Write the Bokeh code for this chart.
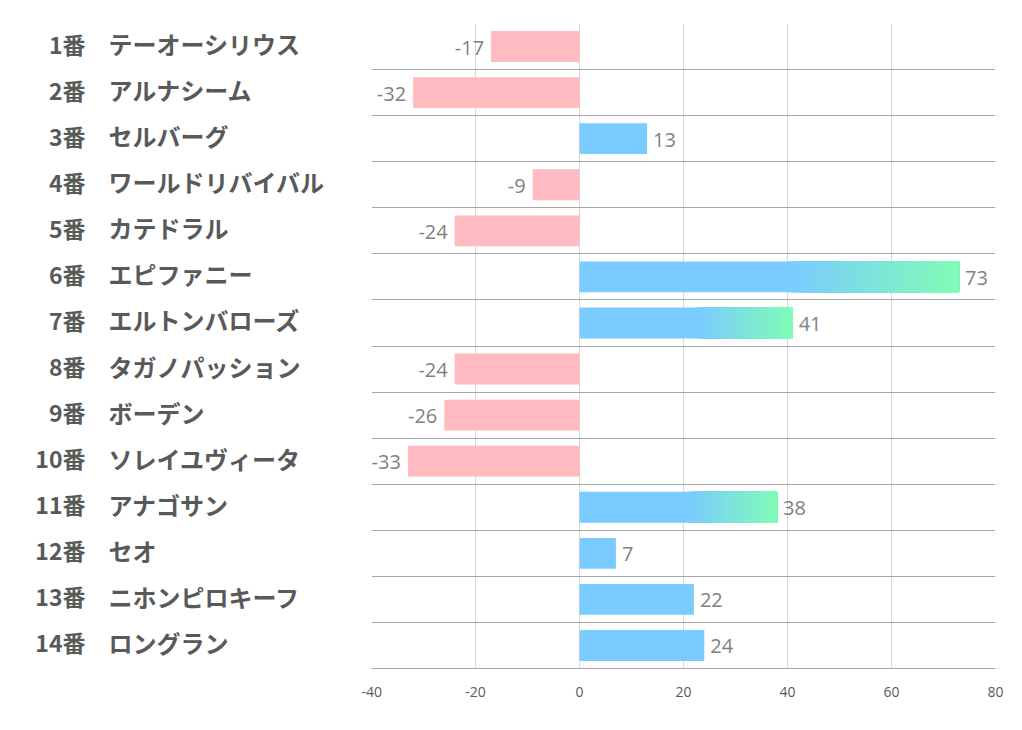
from bokeh.plotting import figure
from bokeh.models import ColumnDataSource, FixedTicker, LabelSet, Range1d
from bokeh.core.properties import value
from bokeh.layouts import row
from bokeh.embed import file_html
from bokeh.resources import INLINE

numbers = ["1番", "2番", "3番", "4番", "5番", "6番", "7番", "8番", "9番", "10番",
           "11番", "12番", "13番", "14番"]
names = ["テーオーシリウス", "アルナシーム", "セルバーグ", "ワールドリバイバル", "カテドラル",
         "エピファニー", "エルトンバローズ", "タガノパッション", "ボーデン", "ソレイユヴィータ",
         "アナゴサン", "セオ", "ニホンピロキーフ", "ロングラン"]
values = [-17, -32, 13, -9, -24, 73, 41, -24, -26, -33, 38, 7, 22, 24]
x_ticks = [-40, -20, 0, 20, 40, 60, 80]

BLUE = (122, 203, 255)
GREEN = (128, 252, 182)
PINK = "#FFBBBF"
GRAD_MIN = 30      # bars at least this long fade to green
GRAD_START = 0.55  # fraction of bar where the fade begins
N_STEPS = 60

n = len(values)
idx = list(range(n))
FH = 645
TOP = 23
BOT = 45

# ---------- left label panel ----------
left = figure(width=361, frame_height=FH, x_range=Range1d(0, 361),
              y_range=Range1d(n - 0.5, -0.5), output_backend="svg",
              toolbar_location=None, min_border_left=0, min_border_right=0,
              min_border_top=TOP, min_border_bottom=BOT)
left.axis.visible = False
left.grid.visible = False
left.outline_line_color = None
lsrc = ColumnDataSource(dict(y=idx, num=numbers, name=names,
                             xn=[85] * n, xm=[108] * n))
left.text(x="xn", y="y", text="num", source=lsrc, text_align="right",
          text_baseline="middle", text_font_size="23px", text_font_style="bold",
          text_color="#595959", text_font=value("Noto Sans CJK JP"), y_offset=-3)
left.text(x="xm", y="y", text="name", source=lsrc, text_align="left",
          text_baseline="middle", text_font_size="24px", text_font_style="bold",
          text_color="#595959", text_font=value("Noto Sans CJK JP"), y_offset=-3)

# ---------- chart ----------
p = figure(frame_width=624, frame_height=FH, x_range=Range1d(-40, 80),
           y_range=Range1d(n - 0.5, -0.5), output_backend="svg",
           toolbar_location=None, min_border_left=10, min_border_right=14,
           min_border_top=TOP, min_border_bottom=BOT)
p.outline_line_color = None
p.yaxis.visible = False
p.xaxis.ticker = FixedTicker(ticks=x_ticks)
p.xaxis.major_label_overrides = {t: str(t) for t in x_ticks}
p.xaxis.major_tick_line_color = None
p.xaxis.minor_tick_line_color = None
p.xaxis.axis_line_color = "#A6A6A6"
p.xaxis.major_label_text_color = "#595959"
p.xaxis.major_label_text_font = "Open Sans"
p.xaxis.major_label_text_font_size = "14px"
p.xaxis.major_label_standoff = 12
p.xgrid.ticker = FixedTicker(ticks=x_ticks)
p.xgrid.grid_line_color = "#D9D9D9"
p.ygrid.ticker = FixedTicker(ticks=[i - 0.5 for i in range(n + 1)])
p.ygrid.grid_line_color = "#A6A6A6"

H = 0.67
sl, sr, sy, sc = [], [], [], []
gl, gr, gy, gc = [], [], [], []
for i, v in enumerate(values):
    if v < 0:
        sl.append(v); sr.append(0); sy.append(i); sc.append(PINK)
    elif v >= GRAD_MIN:
        start = v * GRAD_START
        sl.append(0); sr.append(v); sy.append(i); sc.append("#%02X%02X%02X" % BLUE)
        step = (v - start) / N_STEPS
        for k in range(N_STEPS):
            t = (k + 0.5) / N_STEPS
            col = tuple(round(BLUE[j] + (GREEN[j] - BLUE[j]) * t) for j in range(3))
            gl.append(start + k * step)
            gr.append(v)
            gy.append(i)
            gc.append("#%02X%02X%02X" % col)
    else:
        sl.append(0); sr.append(v); sy.append(i); sc.append("#%02X%02X%02X" % BLUE)

p.hbar(y="y", left="l", right="r", height=H, color="c", line_color=None,
       source=ColumnDataSource(dict(y=sy, l=sl, r=sr, c=sc)))
p.hbar(y="y", left="l", right="r", height=H, color="c", line_color=None,
       source=ColumnDataSource(dict(y=gy, l=gl, r=gr, c=gc)))

pos = [i for i, v in enumerate(values) if v >= 0]
neg = [i for i, v in enumerate(values) if v < 0]
psrc = ColumnDataSource(dict(x=[values[i] for i in pos], y=pos,
                             t=[str(values[i]) for i in pos]))
nsrc = ColumnDataSource(dict(x=[values[i] for i in neg], y=neg,
                             t=[str(values[i]) for i in neg]))
p.add_layout(LabelSet(x="x", y="y", text="t", source=psrc, x_offset=6, y_offset=-1,
                      text_align="left", text_baseline="middle", text_font_size="20px",
                      text_color="#808080", text_font=value("Open Sans")))
p.add_layout(LabelSet(x="x", y="y", text="t", source=nsrc, x_offset=-7, y_offset=-1,
                      text_align="right", text_baseline="middle", text_font_size="20px",
                      text_color="#808080", text_font=value("Open Sans")))

layout = row(left, p)
open("out.html", "w").write(file_html(layout, INLINE))
